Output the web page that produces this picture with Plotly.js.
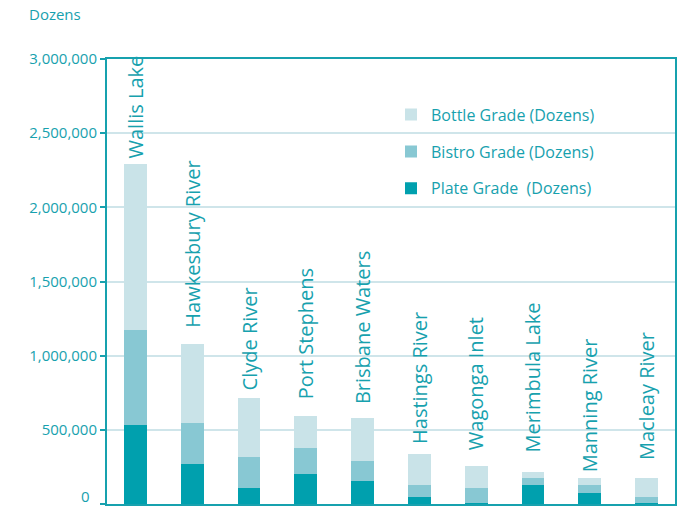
<!DOCTYPE html>
<html>
<head>
<meta charset="utf-8">
<script src="https://cdn.plot.ly/plotly-3.0.1.min.js"></script>
<style>html,body{margin:0;padding:0;background:#fff;}#chart{width:679px;height:506px;}</style>
</head>
<body>
<div id="chart"></div>
<script>
const categories = ["Wallis Lake","Hawkesbury River","Clyde River","Port Stephens","Brisbane Waters","Hastings River","Wagonga Inlet","Merimbula Lake","Manning River","Macleay River"];
const plateGrade  = [533000, 270000, 108000, 202000, 155000, 50000, 5000, 125000, 71000, 10000];
const bistroGrade = [640000, 276000, 209000, 176000, 135000, 75000, 106000, 47000, 54000, 40000];
const bottleGrade = [1122000, 533000, 398000, 215000, 290000, 215000, 142000, 47000, 47000, 122000];
const yTicks = [500000, 1000000, 1500000, 2000000, 2500000, 3000000];
const yTickLabels = ["500,000","1,000,000","1,500,000","2,000,000","2,500,000","3,000,000"];
const zeroLabel = "0";

const TEAL = "#17a1ae";
const FONT = "Open Sans, sans-serif";
const labelGaps = [3, 14, 5, 15, 12, 8, 14, 17, 4, 16];

const totals = categories.map((c, i) => plateGrade[i] + bistroGrade[i] + bottleGrade[i]);

const traces = [
  {type:"bar", name:"Plate Grade  (Dozens)", x:categories, y:plateGrade, marker:{color:"#00a0ae"}, width:0.4, legendgroup:"p", legendrank:3, hoverinfo:"none"},
  {type:"bar", name:"Bistro Grade (Dozens)", x:categories, y:bistroGrade, marker:{color:"#88c8d3"}, width:0.4, legendgroup:"b", legendrank:2, hoverinfo:"none"},
  {type:"bar", name:"Bottle Grade (Dozens)", x:categories, y:bottleGrade, marker:{color:"#c9e3e8"}, width:0.4, legendgroup:"o", legendrank:1, hoverinfo:"none"}
];

const annotations = categories.map((c, i) => ({
  x: c, y: totals[i], xref:"x", yref:"y", text: c, textangle:-90,
  showarrow:false, xanchor:"center", yanchor:"bottom", yshift: labelGaps[i],
  font:{family:FONT, size:20, color:TEAL}
}));
annotations.push({xref:"paper", yref:"paper", x:(27-107)/568, y:1 + (59-14)/445,
  xanchor:"left", yanchor:"middle", text:"Dozens", showarrow:false, font:{family:FONT, size:15, color:TEAL}});
annotations.push({xref:"paper", yref:"y", x:(92-107)/568, y:0, xanchor:"right", yanchor:"bottom", yshift:-4,
  text:zeroLabel, showarrow:false, font:{family:FONT, size:15, color:TEAL}});

const layout = {
  width:679, height:506,
  margin:{l:107, r:4, t:59, b:2},
  paper_bgcolor:"#fff", plot_bgcolor:"#fff",
  barmode:"stack", bargap:0.6,
  showlegend:true,
  legend:{x:0.5, y:0.913, xanchor:"left", yanchor:"top", traceorder:"grouped", tracegroupgap:13,
    bgcolor:"rgba(0,0,0,0)", font:{family:FONT, size:16, color:TEAL}},
  xaxis:{type:"category", range:[-0.5, 9.5], showticklabels:false, ticks:"", showgrid:false,
    showline:true, linecolor:TEAL, linewidth:2, mirror:true, zeroline:false},
  yaxis:{range:[0, 3000000], tickvals:[0].concat(yTicks), ticktext:[""].concat(yTickLabels), ticks:"outside", ticklen:5, tickwidth:2, tickcolor:TEAL,
    showline:true, linecolor:TEAL, linewidth:2, mirror:true, showgrid:true, gridcolor:"#cfe5ea", gridwidth:2, zeroline:false,
    tickfont:{family:FONT, size:15, color:TEAL}},
  annotations: annotations
};

Plotly.newPlot("chart", traces, layout, {displayModeBar:false, staticPlot:true});
</script>
</body>
</html>
